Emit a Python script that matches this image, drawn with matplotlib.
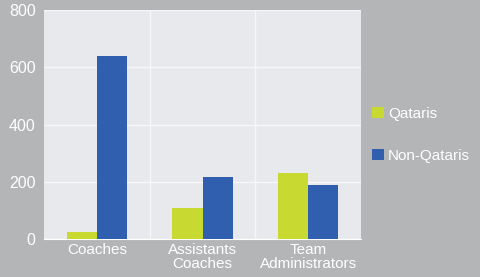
import matplotlib.pyplot as plt
import numpy as np

plt.rcParams['font.family'] = ['Liberation Sans', 'DejaVu Sans']

categories = ["Coaches", "Assistants\nCoaches", "Team\nAdministrators"]
qataris = [26, 108, 232]
non_qataris = [640, 217, 189]

bg = "#b3b5b6"
panel = "#e8e9ec"
green = "#c8d932"
blue = "#2f5fae"

fig = plt.figure(figsize=(4.81, 2.77), dpi=100, facecolor=bg)
ax = fig.add_axes([0.0915, 0.137, 0.659, 0.827], facecolor=panel)

x = np.arange(len(categories))
w = 0.285
ax.bar(x - w / 2, qataris, w, color=green, label="Qataris", zorder=3)
ax.bar(x + w / 2, non_qataris, w, color=blue, label="Non-Qataris", zorder=3)

ax.set_xlim(-0.5, 2.5)
ax.set_ylim(0, 800)
ax.set_yticks([0, 200, 400, 600, 800])
ax.set_xticks(x)
ax.set_xticklabels(categories, linespacing=0.95)
ax.set_xticks([0.5, 1.5], minor=True)
ax.grid(axis="y", color="#f7f7f8", linewidth=1, zorder=0)
ax.grid(axis="x", which="minor", color="#f7f7f8", linewidth=1, zorder=0)
ax.tick_params(which="both", length=0)
ax.tick_params(axis="y", colors="white", labelsize=11.5, pad=6)
ax.tick_params(axis="x", colors="white", labelsize=11, pad=3)
for s in ax.spines.values():
    s.set_visible(False)
ax.spines["bottom"].set_visible(True)
ax.spines["bottom"].set_color("white")

leg = fig.legend(loc="upper left", bbox_to_anchor=(0.745, 0.665), frameon=False,
                 labelcolor="white", fontsize=11, handlelength=0.75, handleheight=0.75,
                 handletextpad=0.3, labelspacing=1.85)

plt.savefig("out.png", dpi=100, facecolor=bg)
